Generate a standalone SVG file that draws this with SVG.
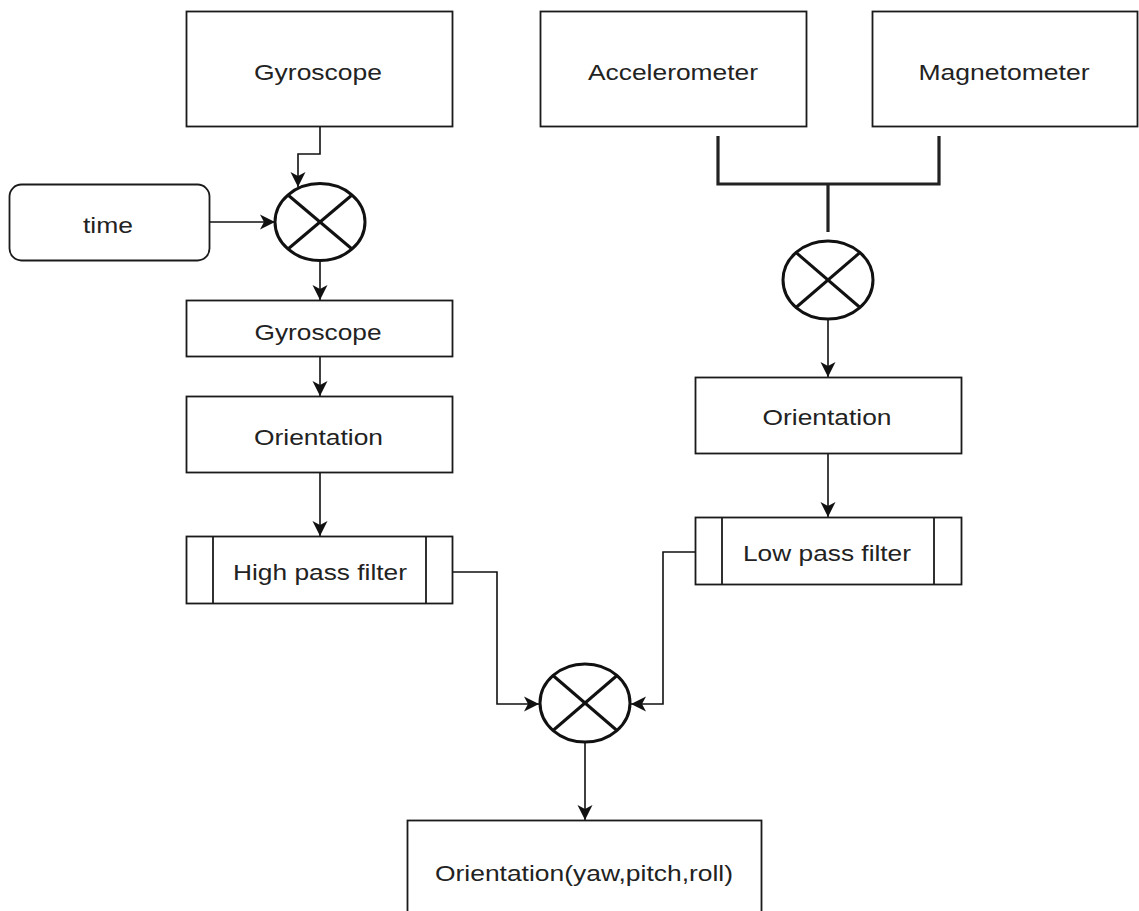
<svg xmlns="http://www.w3.org/2000/svg" width="1139" height="911" viewBox="0 0 1139 911">
  <style>
    .box { fill: #ffffff; stroke: #1a1a1a; stroke-width: 1.8; }
    .sum { fill: #ffffff; stroke: #111111; stroke-width: 3; }
    .x { stroke: #111111; stroke-width: 3; }
    .conn { fill: none; stroke: #111111; stroke-width: 1.6; }
    .bus { fill: none; stroke: #222222; stroke-width: 3.2; }
    .lbl { font-family: "Liberation Sans", Arial, sans-serif; font-size: 22px; fill: #222222; text-anchor: middle; }
  </style>
  <defs>
    <marker id="arrow" markerUnits="userSpaceOnUse" markerWidth="18" markerHeight="18" viewBox="-17 -9 18 18" refX="0" refY="0" orient="auto">
      <path d="M0,0 L-15,-7.5 L-11,0 L-15,7.5 Z" fill="#111111"/>
    </marker>
  </defs>
  <rect width="1139" height="911" fill="#ffffff"/>

  <!-- connectors -->
  <g id="connectors">
    <path class="conn" d="M320,126 V154 H298 V187" marker-end="url(#arrow)"/>
    <path class="conn" d="M210,222 H275" marker-end="url(#arrow)"/>
    <path class="conn" d="M320,261 V300" marker-end="url(#arrow)"/>
    <path class="conn" d="M320,357 V396" marker-end="url(#arrow)"/>
    <path class="conn" d="M320,473 V536" marker-end="url(#arrow)"/>
    <path class="bus" d="M718,136 V184 H939 V136"/>
    <path class="bus" d="M828,184 V232"/>
    <path class="conn" d="M828,319 V377" marker-end="url(#arrow)"/>
    <path class="conn" d="M828,453 V517" marker-end="url(#arrow)"/>
    <path class="conn" d="M695,552 H663 V704 H631" marker-end="url(#arrow)"/>
    <path class="conn" d="M453,572 H497 V704 H539" marker-end="url(#arrow)"/>
    <path class="conn" d="M585,742 V820" marker-end="url(#arrow)"/>
  </g>

  <!-- sensors -->
  <g id="gyroscope">
    <rect class="box" x="186.5" y="11.5" width="266" height="115"/>
    <text class="lbl" x="318" y="79.5" textLength="128" lengthAdjust="spacingAndGlyphs">Gyroscope</text>
  </g>
  <g id="accelerometer">
    <rect class="box" x="540.5" y="11.5" width="266" height="115"/>
    <text class="lbl" x="673" y="80" textLength="170" lengthAdjust="spacingAndGlyphs">Accelerometer</text>
  </g>
  <g id="magnetometer">
    <rect class="box" x="872.5" y="11.5" width="265" height="115"/>
    <text class="lbl" x="1004" y="80" textLength="171" lengthAdjust="spacingAndGlyphs">Magnetometer</text>
  </g>
  <g id="time">
    <rect class="box" x="9.5" y="184.5" width="200" height="76" rx="12" ry="12"/>
    <text class="lbl" x="108" y="233" textLength="50" lengthAdjust="spacingAndGlyphs">time</text>
  </g>

  <!-- multiplier nodes -->
  <g id="mult-gyro">
    <ellipse class="sum" cx="320" cy="222" rx="45" ry="38.5"/>
    <line class="x" x1="288" y1="195" x2="352" y2="249"/>
    <line class="x" x1="352" y1="195" x2="288" y2="249"/>
  </g>
  <g id="mult-accmag">
    <ellipse class="sum" cx="828" cy="280" rx="45" ry="39"/>
    <line class="x" x1="796" y1="252.5" x2="860" y2="307.5"/>
    <line class="x" x1="860" y1="252.5" x2="796" y2="307.5"/>
  </g>
  <g id="mult-fusion">
    <ellipse class="sum" cx="585" cy="703" rx="45" ry="39"/>
    <line class="x" x1="553" y1="675.5" x2="617" y2="730.5"/>
    <line class="x" x1="617" y1="675.5" x2="553" y2="730.5"/>
  </g>

  <!-- gyroscope branch -->
  <g id="gyroscope-integrated">
    <rect class="box" x="186.5" y="300.5" width="266" height="56"/>
    <text class="lbl" x="318" y="339.5" textLength="127" lengthAdjust="spacingAndGlyphs">Gyroscope</text>
  </g>
  <g id="orientation-gyro">
    <rect class="box" x="186.5" y="396.5" width="266" height="76"/>
    <text class="lbl" x="318.5" y="445" textLength="129" lengthAdjust="spacingAndGlyphs">Orientation</text>
  </g>
  <g id="high-pass-filter">
    <rect class="box" x="186.5" y="536.5" width="266" height="67"/>
    <line class="box" x1="213" y1="536.5" x2="213" y2="603.5"/>
    <line class="box" x1="426" y1="536.5" x2="426" y2="603.5"/>
    <text class="lbl" x="320" y="579.5" textLength="174" lengthAdjust="spacingAndGlyphs">High pass filter</text>
  </g>

  <!-- accelerometer / magnetometer branch -->
  <g id="orientation-accmag">
    <rect class="box" x="695.5" y="377.5" width="266" height="76"/>
    <text class="lbl" x="827" y="425" textLength="129" lengthAdjust="spacingAndGlyphs">Orientation</text>
  </g>
  <g id="low-pass-filter">
    <rect class="box" x="695.5" y="517.5" width="266" height="67"/>
    <line class="box" x1="722" y1="517.5" x2="722" y2="584.5"/>
    <line class="box" x1="934" y1="517.5" x2="934" y2="584.5"/>
    <text class="lbl" x="827" y="561" textLength="168" lengthAdjust="spacingAndGlyphs">Low pass filter</text>
  </g>

  <!-- fused output -->
  <g id="orientation-output">
    <rect class="box" x="407.5" y="820.5" width="354" height="110"/>
    <text class="lbl" x="584" y="881" textLength="298" lengthAdjust="spacingAndGlyphs">Orientation(yaw,pitch,roll)</text>
  </g>
</svg>
